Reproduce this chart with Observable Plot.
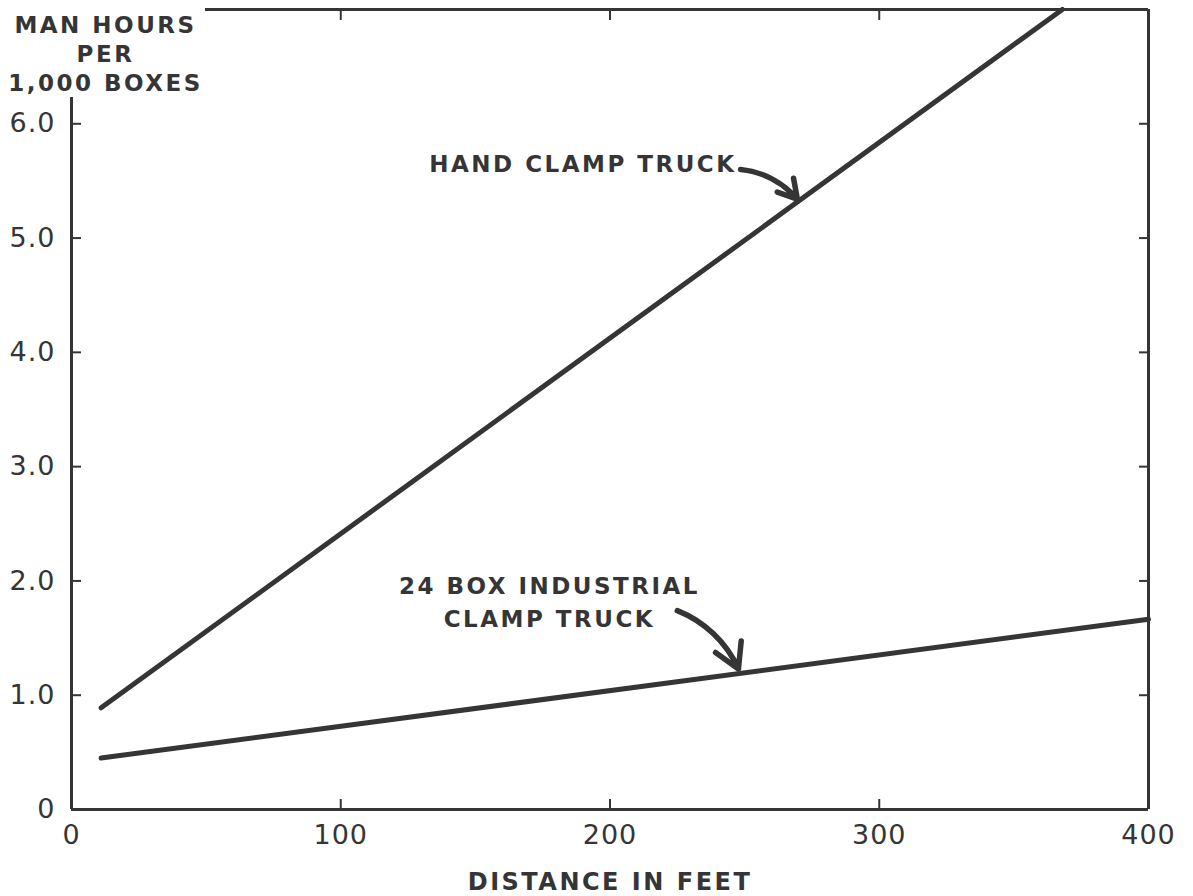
<!DOCTYPE html>
<html><head><meta charset="utf-8">
<script src="https://cdn.jsdelivr.net/npm/d3@7"></script>
<script src="https://cdn.jsdelivr.net/npm/@observablehq/plot@0.6"></script>
<style>
body{margin:0;background:#fff;}
#chart svg{display:block;}
</style></head><body><div id="chart"></div>
<script>
// Series (distance in feet, man hours per 1,000 boxes)
const handDistance = [11, 368];
const handHours = [0.89, 7.0];
const boxDistance = [11, 400];
const boxHours = [0.45, 1.665];

// Tick values
const xTicks = [0, 100, 200, 300, 400];
const yTicks = [0, 1, 2, 3, 4, 5, 6];

// Texts
const yTitle = "MAN HOURS\nPER\n1,000 BOXES";
const xTitle = "DISTANCE IN FEET";
const handLabel = "HAND CLAMP TRUCK";
const boxLabel = "24 BOX INDUSTRIAL\nCLAMP TRUCK";

// Annotation anchors (data units)
const handLabelAt = [247, 5.64];
const boxLabelAt = [177.5, 1.83];
const arrowFromDistance = [248.5, 225];
const arrowFromHours = [5.60, 1.74];
const arrowToDistance = [269.6, 247.7];
const arrowToHours = [5.34, 1.23];

const ink = "#353535";
const hand = handDistance.map((d, i) => ({distance: d, hours: handHours[i]}));
const box = boxDistance.map((d, i) => ({distance: d, hours: boxHours[i]}));
const arrows = arrowFromDistance.map((d, i) => ({x1: d, y1: arrowFromHours[i], x2: arrowToDistance[i], y2: arrowToHours[i]}));
const yFmt = d => d === 0 ? "0" : d.toFixed(1);
const bold = {fontSize: 23, fontWeight: "bold", fill: ink, lineAnchor: "middle"};

const chart = Plot.plot({
  width: 1193, height: 896,
  marginLeft: 71, marginRight: 45, marginTop: 9, marginBottom: 87,
  style: {fontFamily: "DejaVu Sans", color: ink, background: "#fff", overflow: "visible"},
  x: {domain: [0, 400]},
  y: {domain: [0, 7]},
  marks: [
    Plot.ruleY([0], {stroke: ink, strokeWidth: 3}),
    Plot.ruleX([400], {stroke: ink, strokeWidth: 3}),
    Plot.ruleX([0], {stroke: ink, strokeWidth: 3, insetTop: 88}),
    Plot.ruleY([7], {stroke: ink, strokeWidth: 3, insetLeft: 134}),
    Plot.axisY(yTicks, {anchor: "left", tickSize: -10, tickPadding: 26, tickFormat: yFmt, fontSize: 27, label: null, strokeWidth: 2}),
    Plot.axisY(yTicks.filter(d => d > 0), {anchor: "right", tickSize: -10, tickFormat: () => "", label: null, strokeWidth: 2}),
    Plot.axisX(xTicks, {anchor: "bottom", tickSize: -10, tickPadding: 25, fontSize: 27, label: null, strokeWidth: 2}),
    Plot.axisX(xTicks.slice(1, 4), {anchor: "top", tickSize: -10, tickFormat: () => "", label: null, strokeWidth: 2}),
    Plot.line(hand, {x: "distance", y: "hours", stroke: ink, strokeWidth: 5, strokeLinecap: "round"}),
    Plot.line(box, {x: "distance", y: "hours", stroke: ink, strokeWidth: 5, strokeLinecap: "round"}),
    Plot.arrow(arrows, {x1: "x1", y1: "y1", x2: "x2", y2: "y2", bend: 22, stroke: ink, strokeWidth: 5.5, headLength: 13}),
    Plot.text([handLabel], {x: () => handLabelAt[0], y: () => handLabelAt[1], text: d => d, textAnchor: "end", ...bold}),
    Plot.text([boxLabel], {x: () => boxLabelAt[0], y: () => boxLabelAt[1], text: d => d, textAnchor: "middle", lineHeight: 1.42, ...bold}),
    Plot.text([yTitle], {frameAnchor: "top-left", text: d => d, dx: 34, dy: 3, lineAnchor: "top", textAnchor: "middle", lineHeight: 1.26, fontSize: 23, fontWeight: "bold", fill: ink}),
    Plot.text([xTitle], {frameAnchor: "bottom", text: d => d, dy: 73, lineAnchor: "middle", fontSize: 24, fontWeight: "bold", fill: ink})
  ]
});
d3.select(chart).selectAll("g[aria-label='text'] text").style("letter-spacing", "2.5px");
d3.select(chart).selectAll("g[aria-label$='tick label'] text").style("letter-spacing", "1px");
document.getElementById("chart").appendChild(chart);
</script></body></html>
